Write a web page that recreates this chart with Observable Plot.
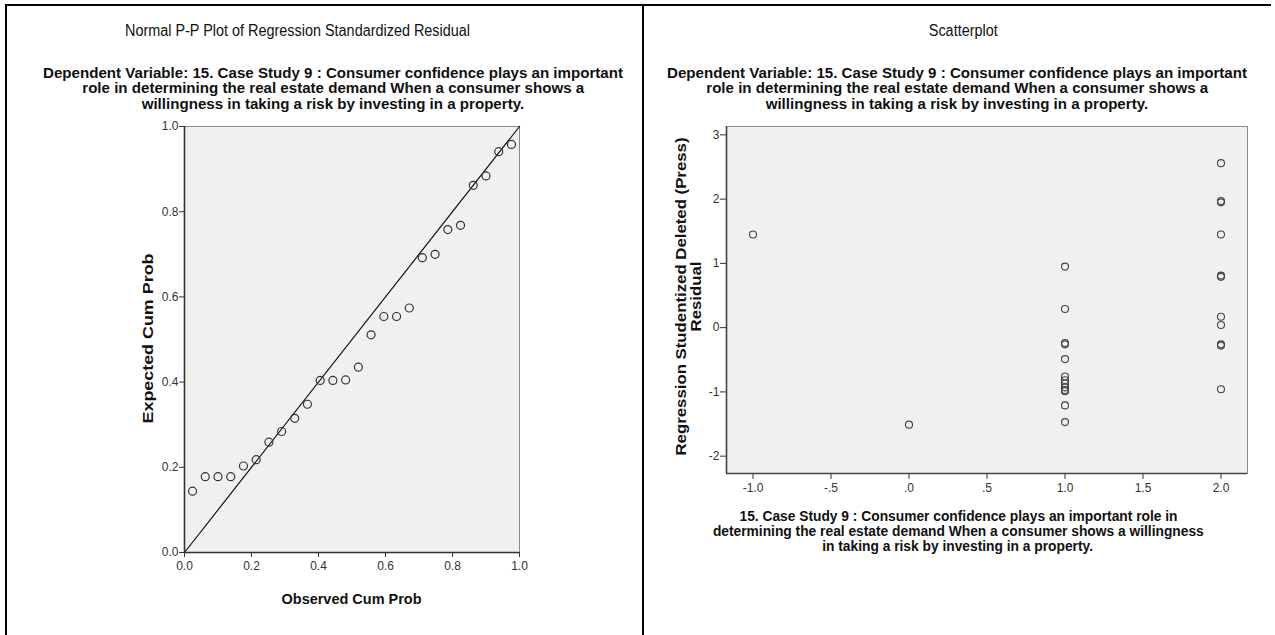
<!DOCTYPE html>
<html><head><meta charset="utf-8">
<script src="https://cdn.jsdelivr.net/npm/d3@7"></script>
<script src="https://cdn.jsdelivr.net/npm/@observablehq/plot@0.6"></script>
<style>
body{margin:0;background:#fff;}
#root{position:relative;width:1275px;height:635px;overflow:hidden;background:#fff;font-family:"Liberation Sans",Arial,sans-serif;color:#111;}
#root svg{position:absolute;top:0;}
.t{position:absolute;white-space:nowrap;line-height:1;transform-origin:center center;}
.border{position:absolute;background:#000;}
</style>
</head><body>
<div id="root"></div>
<script>
// ---- Data: Normal P-P plot ----
const ppObserved = [0.024,0.062,0.100,0.138,0.176,0.214,0.252,0.290,0.329,0.367,0.405,0.443,0.481,0.519,0.557,0.595,0.633,0.671,0.710,0.748,0.786,0.824,0.862,0.900,0.938,0.976];
const ppExpected = [0.144,0.178,0.178,0.178,0.203,0.218,0.259,0.284,0.315,0.348,0.404,0.404,0.405,0.435,0.511,0.554,0.554,0.574,0.692,0.700,0.758,0.768,0.862,0.884,0.941,0.958];
const ppRefLine = [0, 1];
const ppTicks = [0, 0.2, 0.4, 0.6, 0.8, 1.0];
const ppTickLabels = ["0.0","0.2","0.4","0.6","0.8","1.0"];

// ---- Data: Scatterplot ----
const scPredicted = [-1, 0, 1,1,1,1,1,1,1,1,1,1,1,1,1, 2,2,2,2,2,2,2,2,2,2,2];
const scResidual  = [1.45, -1.51, 0.95,0.29,-0.24,-0.26,-0.49,-0.76,-0.82,-0.87,-0.93,-0.97,-0.99,-1.21,-1.47, 2.56,1.97,1.95,1.45,0.81,0.79,0.17,0.04,-0.26,-0.28,-0.96];
const scXTicks = [-1, -0.5, 0, 0.5, 1, 1.5, 2];
const scXTickLabels = ["-1.0","-.5",".0",".5","1.0","1.5","2.0"];
const scYTicks = [-2, -1, 0, 1, 2, 3];
const scYTickLabels = ["-2","-1","0","1","2","3"];

// ---- Text ----
const ppTitle = "Normal P-P Plot of Regression Standardized Residual";
const scTitle = "Scatterplot";
const subtitleLines = [
  "Dependent Variable: 15. Case Study 9 : Consumer confidence plays an important",
  "role in determining the real estate demand When a consumer shows a",
  "willingness in taking a risk by investing in a property."
];
const ppXLabel = "Observed Cum Prob";
const ppYLabel = "Expected Cum Prob";
const scYLabelLines = ["Regression Studentized Deleted (Press)", "Residual"];
const scXLabelLines = [
  "15. Case Study 9 : Consumer confidence plays an important role in",
  "determining the real estate demand When a consumer shows a willingness",
  "in taking a risk by investing in a property."
];

const root = document.getElementById("root");
const tickFont = '"Liberation Sans Narrow", "Liberation Sans", Arial, sans-serif';

// ---- Left: P-P plot ----
const ppData = ppObserved.map((o, i) => ({o, e: ppExpected[i]}));
const ppPlot = Plot.plot({
  width: 640, height: 635,
  marginLeft: 184, marginRight: 121, marginTop: 126, marginBottom: 83,
  style: {background: "transparent", fontFamily: tickFont, fontSize: "12px", color: "#333"},
  x: {domain: [0, 1]},
  y: {domain: [0, 1]},
  marks: [
    Plot.frame({fill: "#f0f0f0", stroke: "#888", strokeWidth: 1}),
    Plot.line(ppRefLine.map(v => ({v})), {x: "v", y: "v", stroke: "#111", strokeWidth: 1.2}),
    Plot.dot(ppData, {x: "o", y: "e", r: 4, stroke: "#333", strokeWidth: 1.2, fill: "none"}),
    Plot.ruleX([0], {stroke: "#333", strokeWidth: 1.6}),
    Plot.ruleY([0], {stroke: "#333", strokeWidth: 1.6}),
    Plot.axisX(ppTicks, {tickSize: 5, tickPadding: 4, tickFormat: d => ppTickLabels[ppTicks.indexOf(d)], label: null, stroke: "#333"}),
    Plot.axisY(ppTicks, {tickSize: 5, tickPadding: 1, tickFormat: d => ppTickLabels[ppTicks.indexOf(d)], label: null, stroke: "#333"})
  ]
});
ppPlot.style.left = "0px";
root.appendChild(ppPlot);

// ---- Right: Scatterplot ----
const scData = scPredicted.map((x, i) => ({x, y: scResidual[i]}));
const scPlot = Plot.plot({
  width: 635, height: 635,
  marginLeft: 86, marginRight: 28, marginTop: 126, marginBottom: 162,
  style: {background: "transparent", fontFamily: tickFont, fontSize: "12px", color: "#333"},
  x: {domain: [-1.17, 2.17]},
  y: {domain: [-2.27, 3.13]},
  marks: [
    Plot.frame({fill: "#f0f0f0", stroke: "#888", strokeWidth: 1}),
    Plot.dot(scData, {x: "x", y: "y", r: 3.5, stroke: "#444", strokeWidth: 1.1, fill: "none"}),
    Plot.ruleX([-1.17], {stroke: "#444", strokeWidth: 1.6}),
    Plot.ruleY([-2.27], {stroke: "#444", strokeWidth: 1.6}),
    Plot.axisX(scXTicks, {tickSize: 6, tickPadding: 4, tickFormat: d => scXTickLabels[scXTicks.indexOf(d)], label: null, stroke: "#333"}),
    Plot.axisY(scYTicks, {tickSize: 6, tickPadding: 1, tickFormat: d => scYTickLabels[scYTicks.indexOf(d)], label: null, stroke: "#333"})
  ]
});
scPlot.style.left = "640px";
root.appendChild(scPlot);

// ---- Borders ----
function border(l, t, w, h) {
  const d = document.createElement("div");
  d.className = "border";
  Object.assign(d.style, {left: l + "px", top: t + "px", width: w + "px", height: h + "px"});
  root.appendChild(d);
}
border(5, 4, 1266, 2);
border(5, 4, 2, 631);
border(642, 4, 2, 631);

// ---- Text helper ----
function measure(text, size, weight) {
  const s = document.createElement("span");
  s.className = "t"; s.textContent = text;
  s.style.fontSize = size + "px"; s.style.fontWeight = weight;
  root.appendChild(s);
  const w = s.getBoundingClientRect().width;
  s.remove();
  return w;
}
function place(text, cx, cy, size, weight, opts = {}) {
  const s = document.createElement("span");
  s.className = "t";
  s.textContent = text;
  s.style.fontSize = size + "px";
  s.style.fontWeight = weight;
  root.appendChild(s);
  const r = s.getBoundingClientRect();
  const sx = opts.width ? opts.width / r.width : (opts.sx || 1);
  s.style.left = (cx - r.width / 2) + "px";
  s.style.top = (cy - r.height / 2) + "px";
  s.style.transform = (opts.rotate ? `rotate(${opts.rotate}deg) ` : "") + `scaleX(${sx})`;
}

// Titles
const titleSx = 345 / measure(ppTitle, 16, "normal");
place(ppTitle, 298, 31, 16, "normal", {sx: titleSx});
place(scTitle, 963, 31, 16, "normal", {sx: titleSx});

const subSx = 580 / measure(subtitleLines[0], 15, "bold");
const subY = [72, 87.5, 103];
subtitleLines.forEach((ln, i) => {
  place(ln, 333, subY[i], 15, "bold", {sx: subSx});
  place(ln, 957, subY[i], 15, "bold", {sx: subSx});
});

// Left axis labels
place(ppXLabel, 352, 598, 15, "bold", {width: 140});
place(ppYLabel, 147, 338, 15, "bold", {width: 170, rotate: -90});

// Right axis labels
const yLabSx = 318 / measure(scYLabelLines[0], 15, "bold");
place(scYLabelLines[0], 680, 296, 15, "bold", {sx: yLabSx, rotate: -90});
place(scYLabelLines[1], 695.5, 296, 15, "bold", {sx: yLabSx, rotate: -90});

const xLabSx = 438 / measure(scXLabelLines[0], 14, "bold");
const xLabY = [516, 531, 546];
scXLabelLines.forEach((ln, i) => place(ln, 958, xLabY[i], 14, "bold", {sx: xLabSx}));
</script>
</body></html>
